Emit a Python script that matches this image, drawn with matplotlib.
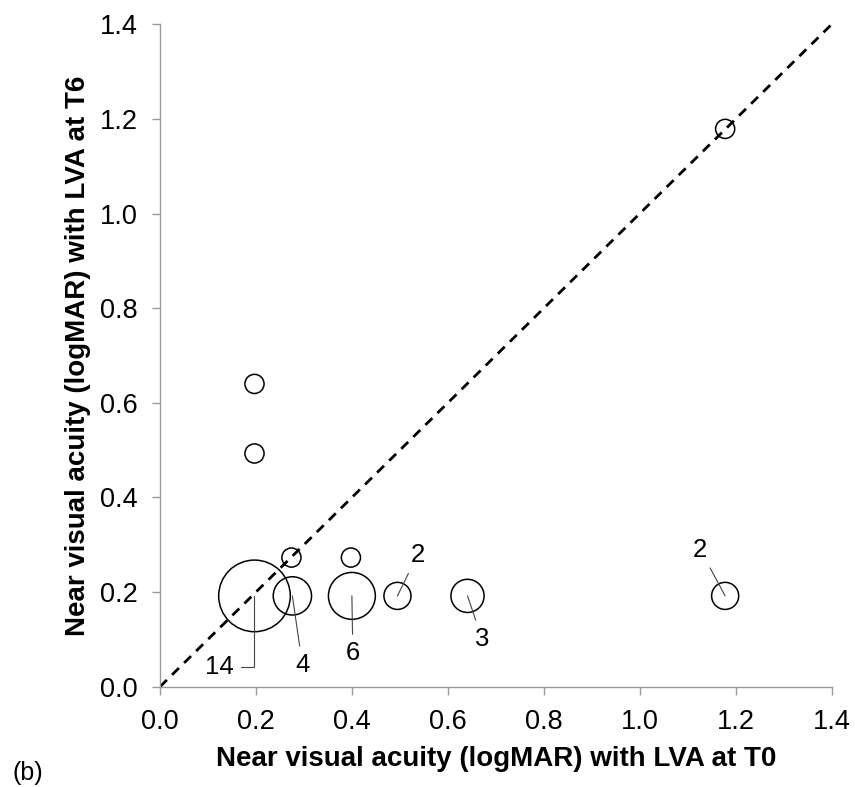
import numpy as np
import matplotlib.pyplot as plt

plt.rcParams['font.family'] = ['Liberation Sans', 'DejaVu Sans']

# near visual acuity (logMAR) with LVA at T0 / T6, and number of eyes at each point
t0 = [0.197, 0.197, 0.274, 0.398, 0.197, 0.276, 0.400, 0.495, 0.641, 1.178, 1.178]
t6 = [0.640, 0.493, 0.273, 0.273, 0.192, 0.192, 0.192, 0.192, 0.192, 0.192, 1.179]
counts = [1, 1, 1, 1, 14, 4, 6, 2, 3, 2, 1]

ticks = [0.0, 0.2, 0.4, 0.6, 0.8, 1.0, 1.2, 1.4]

# label offsets (points) for the points with n > 1
label_offsets = {4: (-14.6, -50.9), 5: (7.2, -49.7), 6: (0.7, -41.3),
                 7: (14.4, 29.5), 8: (10.5, -31.0), 9: (-18.0, 33.4)}

fig = plt.figure(figsize=(8.55, 7.87), dpi=100)
ax = fig.add_axes([0.1871, 0.1274, 0.7856, 0.8417])

ax.plot([0, 1.4], [0, 1.4], ls='--', color='black', lw=2.0, dashes=(3.5, 2.6), zorder=1)

sizes = [190 * c for c in counts]
ax.scatter(t0, t6, s=sizes, facecolors='none', edgecolors='black', linewidths=1.1, zorder=2)

for i, (dx, dy) in label_offsets.items():
    if i == 4:
        ax.annotate(str(counts[i]), xy=(t0[i], t6[i]), xytext=(dx, dy),
                    textcoords='offset points', ha='right', va='center', fontsize=18.5,
                    arrowprops=dict(arrowstyle='-', color='#444444', lw=0.8,
                                    shrinkA=3, shrinkB=0,
                                    connectionstyle='angle,angleA=0,angleB=90,rad=0'))
    else:
        ax.annotate(str(counts[i]), xy=(t0[i], t6[i]), xytext=(dx, dy),
                    textcoords='offset points', ha='center', va='center', fontsize=18.5,
                    arrowprops=dict(arrowstyle='-', color='#444444', lw=0.8,
                                    shrinkA=3, shrinkB=0))

ax.set_xlim(0, 1.4)
ax.set_ylim(0, 1.4)
ax.set_xticks(ticks)
ax.set_yticks(ticks)
ax.set_xticklabels([f'{t:.1f}' for t in ticks])
ax.set_yticklabels([f'{t:.1f}' for t in ticks])
ax.tick_params(direction='out', length=6, width=1, color='#999999',
               labelsize=19.5, pad=10)
for side in ['top', 'right']:
    ax.spines[side].set_visible(False)
for side in ['left', 'bottom']:
    ax.spines[side].set_color('#999999')
    ax.spines[side].set_linewidth(1)

ax.set_xlabel('Near visual acuity (logMAR) with LVA at T0', fontsize=20,
              fontweight='bold', labelpad=8)
ax.set_ylabel('Near visual acuity (logMAR) with LVA at T6', fontsize=20,
              fontweight='bold', labelpad=6)

fig.text(12 / 855, 0.0178, '(b)', fontsize=18, ha='left', va='center')

fig.savefig('out.png', dpi=100)
